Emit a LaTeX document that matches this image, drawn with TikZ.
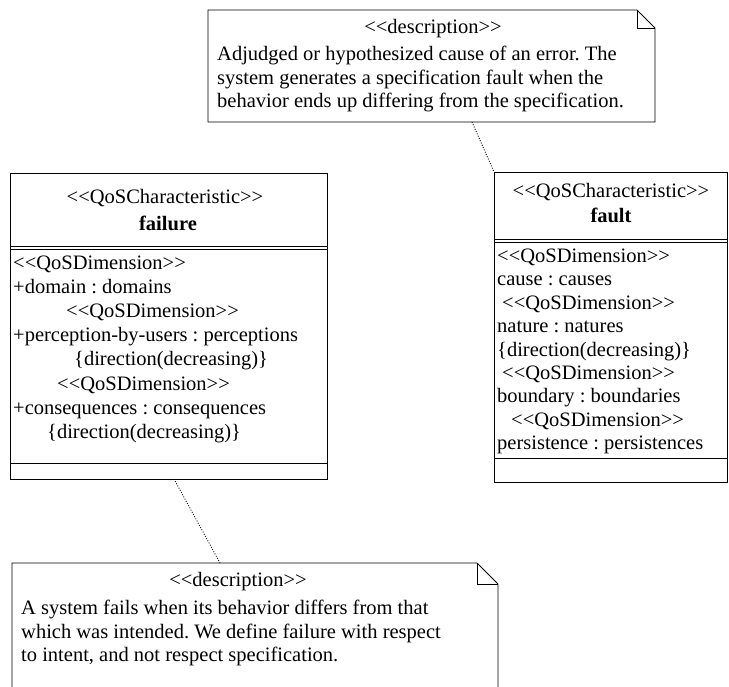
\documentclass[tikz,border=0pt]{standalone}
\usepackage{fontspec}
\setmainfont{Liberation Serif}
\usetikzlibrary{positioning}
\newcommand{\stereo}[1]{{<}{<}#1{>}{>}}
\tikzset{
  box/.style={draw, line width=0.9pt, anchor=north west, inner sep=0pt},
  txt/.style={anchor=west, inner sep=0pt, text height=14pt, text depth=4pt, yshift=-3.5pt, font=\fontsize{20.5}{23}\selectfont},
  ctxt/.style={txt, anchor=center},
  sep/.style={line width=0.9pt},
  link/.style={line width=0.9pt, dash pattern=on 0.9pt off 1.6pt},
}
\frenchspacing
\begin{document}
\begin{tikzpicture}[x=1pt,y=-1pt]
        \useasboundingbox (0,0) rectangle (729,687);
        % description note of fault
        \draw[sep] (208,10) -- (637,10) -- (655,28) -- (655,122) -- (208,122) -- cycle;
        \draw[sep] (637,10) -- (637,28) -- (655,28);
        \coordinate (faultnote-foot) at (472,122);
        \node[ctxt] (faultnote-st) at (433,25) {\stereo{description}};
        \node[txt] (faultnote-l1) at (217,52) {Adjudged or hypothesized cause of an error. The};
        \node[txt] (faultnote-l2) at (217,76) {system generates a specification fault when the};
        \node[txt] (faultnote-l3) at (217,99) {behavior ends up differing from the specification.};
        % class failure
        \node[box, minimum width=317pt, minimum height=306pt] (failure) at (10,173) {};
        \draw[sep] (10,246.5) -- (327,246.5);
        \draw[sep] (10,249.5) -- (327,249.5);
        \draw[sep] (10,463) -- (327,463);
        \coordinate (failure-foot) at (174,479);
        \node[ctxt] (failure-st) at (165,195) {\stereo{QoSCharacteristic}};
        \node[ctxt] (failure-name) at (168,222) {\bfseries failure};
        \node[txt] (failure-a1) at (13,261) {\stereo{QoSDimension}};
        \node[txt] (failure-a2) at (13,285) {+domain : domains};
        \node[txt] (failure-a3) at (66,309) {\stereo{QoSDimension}};
        \node[txt] (failure-a4) at (13,333) {+perception-by-users : perceptions};
        \node[txt] (failure-a5) at (74,357.5) {\{direction(decreasing)\}};
        \node[txt] (failure-a6) at (57,381.5) {\stereo{QoSDimension}};
        \node[txt] (failure-a7) at (13,405.5) {+consequences : consequences};
        \node[txt] (failure-a8) at (47,429.5) {\{direction(decreasing)\}};
        % class fault
        \node[box, minimum width=233pt, minimum height=310pt] (fault) at (494,172) {};
        \draw[sep] (494,239) -- (727,239);
        \draw[sep] (494,242) -- (727,242);
        \draw[sep] (494,458) -- (727,458);
        \node[ctxt] (fault-st) at (611,189) {\stereo{QoSCharacteristic}};
        \node[ctxt] (fault-name) at (611,214) {\bfseries fault};
        \node[txt] (fault-a1) at (497,254) {\stereo{QoSDimension}};
        \node[txt] (fault-a2) at (497,277.4) {cause : causes};
        \node[txt] (fault-a3) at (502,300.8) {\stereo{QoSDimension}};
        \node[txt] (fault-a4) at (497,324.2) {nature : natures};
        \node[txt] (fault-a5) at (497,347.6) {\{direction(decreasing)\}};
        \node[txt] (fault-a6) at (502,371) {\stereo{QoSDimension}};
        \node[txt] (fault-a7) at (497,394.4) {boundary : boundaries};
        \node[txt] (fault-a8) at (511,417.8) {\stereo{QoSDimension}};
        \node[txt] (fault-a9) at (497,441.2) {persistence : persistences};
        % description note of failure
        \draw[sep] (12,700) -- (12,563) -- (477,563) -- (498,584) -- (498,700);
        \draw[sep] (477,563) -- (477,584) -- (498,584);
        \coordinate (failnote-top) at (220,563);
        \node[ctxt] (failnote-st) at (238,578) {\stereo{description}};
        \node[txt] (failnote-l1) at (21,606) {A system fails when its behavior differs from that};
        \node[txt] (failnote-l2) at (21,630) {which was intended. We define failure with respect};
        \node[txt] (failnote-l3) at (21,653) {to intent, and not respect specification.};
        % dotted anchors
        \draw[link] (faultnote-foot) -- (fault.north west);
        \draw[link] (failure-foot) -- (failnote-top);
\end{tikzpicture}
\end{document}
